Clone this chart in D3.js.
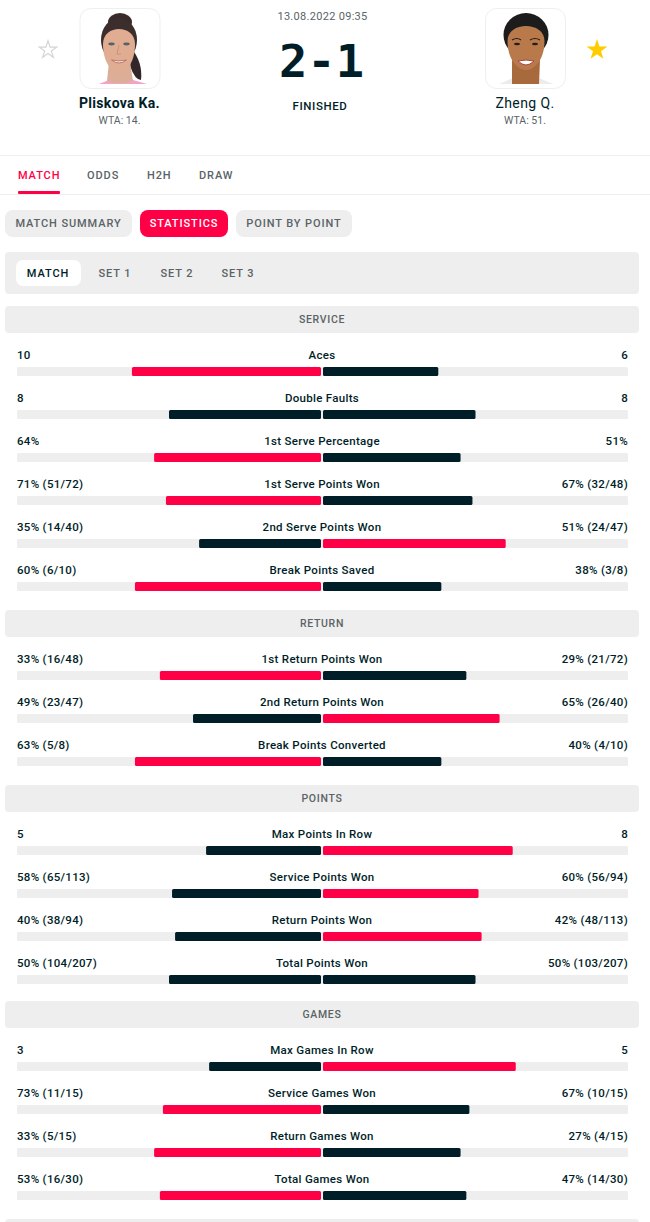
<!DOCTYPE html>
<html>
<head>
<meta charset="utf-8">
<script src="https://cdnjs.cloudflare.com/ajax/libs/d3/7.8.5/d3.min.js"></script>
<style>
  body { margin: 0; background: #fff; }
  svg { display: block; }
  text { font-family: Roboto, sans-serif; }
</style>
</head>
<body>
<svg width="650" height="1222"></svg>
<script>
// ************** Data *****************

const RED = "#ff0046";
const DARK = "#001e28";
const GREY = "#eeeeee";
const MUTED = "#5a6366";

// share = left player's part of the bar
const sections = [
  { name: "SERVICE", top: 306, rows: [
    { label: "Aces", left: "10", right: "6", share: 0.622 },
    { label: "Double Faults", left: "8", right: "8", share: 0.5 },
    { label: "1st Serve Percentage", left: "64%", right: "51%", share: 0.549 },
    { label: "1st Serve Points Won", left: "71% (51/72)", right: "67% (32/48)", share: 0.51 },
    { label: "2nd Serve Points Won", left: "35% (14/40)", right: "51% (24/47)", share: 0.401 },
    { label: "Break Points Saved", left: "60% (6/10)", right: "38% (3/8)", share: 0.612 }
  ]},
  { name: "RETURN", top: 610, rows: [
    { label: "1st Return Points Won", left: "33% (16/48)", right: "29% (21/72)", share: 0.53 },
    { label: "2nd Return Points Won", left: "49% (23/47)", right: "65% (26/40)", share: 0.421 },
    { label: "Break Points Converted", left: "63% (5/8)", right: "40% (4/10)", share: 0.612 }
  ]},
  { name: "POINTS", top: 785, rows: [
    { label: "Max Points In Row", left: "5", right: "8", share: 0.378 },
    { label: "Service Points Won", left: "58% (65/113)", right: "60% (56/94)", share: 0.49 },
    { label: "Return Points Won", left: "40% (38/94)", right: "42% (48/113)", share: 0.48 },
    { label: "Total Points Won", left: "50% (104/207)", right: "50% (103/207)", share: 0.5 }
  ]},
  { name: "GAMES", top: 1001, rows: [
    { label: "Max Games In Row", left: "3", right: "5", share: 0.368 },
    { label: "Service Games Won", left: "73% (11/15)", right: "67% (10/15)", share: 0.52 },
    { label: "Return Games Won", left: "33% (5/15)", right: "27% (4/15)", share: 0.549 },
    { label: "Total Games Won", left: "53% (16/30)", right: "47% (14/30)", share: 0.53 }
  ]}
];

// ************** Setup *****************

let svg = d3.select("svg");

const xLeft = d3.scaleLinear().domain([0, 1]).range([321, 17]);     // bars grow out from the middle
const xRight = d3.scaleLinear().domain([0, 1]).range([323, 628]);

function label(g, x, y, str, size, weight, fill, anchor, spacing) {
  return g.append("text")
    .attr("x", x).attr("y", y)
    .attr("font-size", size)
    .attr("font-weight", weight)
    .attr("fill", fill)
    .attr("text-anchor", anchor || "start")
    .attr("letter-spacing", spacing || 0)
    .text(str);
}

function box(g, x, y, w, h, r, fill) {
  return g.append("rect").attr("x", x).attr("y", y).attr("width", w).attr("height", h).attr("rx", r).attr("fill", fill);
}

// ************** Header *****************

let head = svg.append("g");

svg.append("defs").append("filter").attr("id", "soft")
  .append("feGaussianBlur").attr("stdDeviation", 0.7);

function face(c, w, top, chin) {
  return `M${c-w} ${top+16} C${c-w} ${top-4} ${c+w} ${top-4} ${c+w} ${top+16} C${c+w} ${chin-10} ${c+8} ${chin} ${c} ${chin} C${c-8} ${chin} ${c-w} ${chin-10} ${c-w} ${top+16} Z`;
}

// player cards, faces are only rough shapes
function card(x, cx, draw) {
  box(head, x, 8.5, 80, 80, 11, "#fff").attr("stroke", "#efefef");
  let p = head.append("g").attr("filter", "url(#soft)");
  draw(p, cx);
}

card(80, 119, function (p, c) {
  p.append("path").attr("d", `M${c+12} 48 Q${c+24} 62 ${c+22} 80 Q${c+16} 80 ${c+11} 66 Z`).attr("fill", "#33262a");
  p.append("path").attr("d", `M${c-20} 84 L${c-10} 80 L${c+14} 80 L${c+28} 84 Z`).attr("fill", "#f3a3c8");
  p.append("path").attr("d", `M${c-10} 62 L${c-12} 81 Q${c} 86 ${c+14} 81 L${c+11} 62 Z`).attr("fill", "#dcae97");
  p.append("ellipse").attr("cx", c + 1).attr("cy", 22).attr("rx", 12).attr("ry", 9).attr("fill", "#3b2b2c");
  p.append("ellipse").attr("cx", c).attr("cy", 40).attr("rx", 18).attr("ry", 22).attr("fill", "#3d2e2e");
  p.append("path").attr("d", face(c, 16, 28, 72)).attr("fill", "#e0ad92");
  p.append("ellipse").attr("cx", c - 7.5).attr("cy", 44).attr("rx", 3.2).attr("ry", 1.4).attr("fill", "#57606a");
  p.append("ellipse").attr("cx", c + 7.5).attr("cy", 44).attr("rx", 3.2).attr("ry", 1.4).attr("fill", "#57606a");
  p.append("path").attr("d", `M${c-7.5} 60 Q${c} 66 ${c+7.5} 60 Q${c} 62 ${c-7.5} 60 Z`).attr("fill", "#f3ece8").attr("stroke", "#b8655f").attr("stroke-width", 0.8);
  p.append("path").attr("d", `M${c} 45 L${c-2} 54 L${c+2} 54`).attr("fill", "none").attr("stroke", "#c48d72").attr("stroke-width", 0.8);
});

card(485.5, 525, function (p, c) {
  p.append("path").attr("d", `M${c-26} 84 L${c-12} 78 L${c+14} 78 L${c+28} 84 Z`).attr("fill", "#ececec");
  p.append("path").attr("d", `M${c-13} 60 L${c-13} 84 L${c+14} 84 L${c+15} 60 Z`).attr("fill", "#a8693d");
  p.append("ellipse").attr("cx", c + 1).attr("cy", 35).attr("rx", 22.5).attr("ry", 22).attr("fill", "#1f1a1a");
  p.append("path").attr("d", face(c + 1, 18.5, 25, 70)).attr("fill", "#b87a4c");
  p.append("path").attr("d", `M${c-13} 40 Q${c-8} 37 ${c-4} 40`).attr("fill", "none").attr("stroke", "#2b1c14").attr("stroke-width", 1.2);
  p.append("path").attr("d", `M${c+5} 40 Q${c+10} 37 ${c+15} 40`).attr("fill", "none").attr("stroke", "#2b1c14").attr("stroke-width", 1.2);
  p.append("ellipse").attr("cx", c - 8).attr("cy", 44).attr("rx", 3).attr("ry", 1.3).attr("fill", "#2a1a12");
  p.append("ellipse").attr("cx", c + 10).attr("cy", 44).attr("rx", 3).attr("ry", 1.3).attr("fill", "#2a1a12");
  p.append("path").attr("d", `M${c-7} 61 Q${c+1} 59 ${c+9} 61 Q${c+1} 69 ${c-7} 61 Z`).attr("fill", "#fff").attr("stroke", "#a8403a").attr("stroke-width", 1);
});

// favourite stars
const star = d3.symbol().type(d3.symbolStar);
head.append("path").attr("d", star.size(95)()).attr("transform", "translate(48,50)")
  .attr("fill", "#fff").attr("stroke", "#d4d4d4").attr("stroke-width", 1.2);
head.append("path").attr("d", star.size(135)()).attr("transform", "translate(597,50)")
  .attr("fill", "#ffcc00");

label(head, 119.5, 108, "Pliskova Ka.", 14, 700, DARK, "middle", 0.3);
label(head, 119.5, 124, "WTA: 14.", 10.5, 400, MUTED, "middle");
label(head, 525, 108, "Zheng Q.", 14, 400, DARK, "middle", 0.4);
label(head, 525, 124, "WTA: 51.", 10.5, 400, MUTED, "middle");
label(head, 322.5, 20, "13.08.2022 09:35", 11, 400, MUTED, "middle", 0.3);
label(head, 279, 77, "2-1", 44, 700, DARK)
  .style("font-family", "'DejaVu Sans Mono', monospace")
  .attr("textLength", 85).attr("lengthAdjust", "spacingAndGlyphs");
label(head, 320, 110, "FINISHED", 11.5, 500, DARK, "middle", 0.6);

// ************** Tabs *****************

let nav = svg.append("g");
box(nav, 0, 155, 650, 1, 0, "#eeeeee");
box(nav, 0, 194, 650, 1, 0, "#eeeeee");
box(nav, 18, 191, 42, 3, 1, RED);

[["MATCH", 18, RED], ["ODDS", 87, MUTED], ["H2H", 147, MUTED], ["DRAW", 199, MUTED]].forEach(function (t) {
  label(nav, t[1], 179, t[0], 11, 500, t[2], "start", 0.9);
});

[["MATCH SUMMARY", 5, 127, GREY, MUTED], ["STATISTICS", 140, 88, RED, "#fff"], ["POINT BY POINT", 236, 116, GREY, MUTED]].forEach(function (t) {
  box(nav, t[1], 210, t[2], 27, 8, t[3]);
  label(nav, t[1] + t[2] / 2, 227, t[0], 11, 500, t[4], "middle", 0.9);
});

box(nav, 5, 252, 634, 42, 4, GREY);
box(nav, 16, 260, 65, 26, 7, "#fff");
[["MATCH", 48, DARK], ["SET 1", 115, MUTED], ["SET 2", 177, MUTED], ["SET 3", 238, MUTED]].forEach(function (t) {
  label(nav, t[1], 277, t[0], 11, 500, t[2], "middle", 0.9);
});

// ************** Stat rows *****************

sections.forEach(function (s) {
  let g = svg.append("g");
  box(g, 5, s.top, 634, 27, 4, GREY);
  label(g, 322, s.top + 16.5, s.name, 10.5, 500, MUTED, "middle", 0.7);

  let rows = g.selectAll(".row")
    .data(s.rows)
    .enter().append("g")
    .attr("class", "row")
    .attr("transform", function (d, i) { return "translate(0," + (s.top + 53 + i * 43) + ")"; });

  rows.append("rect")          // grey track
    .attr("x", xLeft(1)).attr("y", 8)
    .attr("width", xRight(1) - xLeft(1)).attr("height", 9)
    .attr("rx", 1.5).attr("fill", GREY);

  rows.append("rect")
    .attr("x", function (d) { return xLeft(d.share); })
    .attr("y", 8)
    .attr("width", function (d) { return xLeft(0) - xLeft(d.share); })
    .attr("height", 9)
    .attr("rx", 1.5)
    .attr("fill", function (d) { return d.share > 0.5 ? RED : DARK; });

  rows.append("rect")
    .attr("x", xRight(0))
    .attr("y", 8)
    .attr("width", function (d) { return xRight(1 - d.share) - xRight(0); })
    .attr("height", 9)
    .attr("rx", 1.5)
    .attr("fill", function (d) { return d.share < 0.5 ? RED : DARK; });

  rows.append("text").attr("x", 17).attr("y", 0).attr("font-size", 11.5).attr("font-weight", 500)
    .attr("fill", DARK).attr("letter-spacing", 0.3).text(function (d) { return d.left; });
  rows.append("text").attr("x", 628).attr("y", 0).attr("font-size", 11.5).attr("font-weight", 500)
    .attr("fill", DARK).attr("letter-spacing", 0.3).attr("text-anchor", "end").text(function (d) { return d.right; });
  rows.append("text").attr("x", 322).attr("y", 0).attr("font-size", 11.5).attr("font-weight", 500)
    .attr("fill", DARK).attr("letter-spacing", 0.3).attr("text-anchor", "middle").text(function (d) { return d.label; });
});

// top of the next section, cut off by the window
box(svg, 5, 1219, 634, 27, 4, GREY);
</script>
</body>
</html>
